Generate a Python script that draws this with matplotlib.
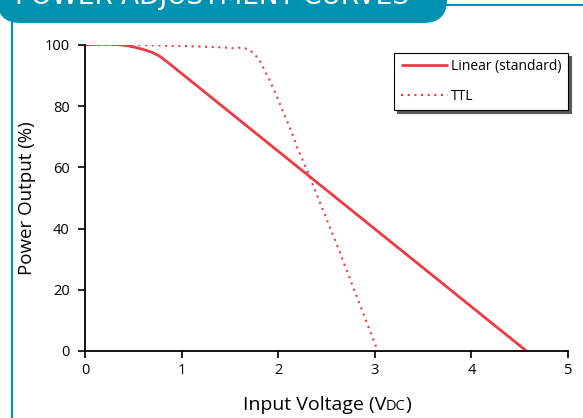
import numpy as np
import matplotlib
matplotlib.use('Agg')
import matplotlib.pyplot as plt
from matplotlib.patches import FancyBboxPatch
from matplotlib.lines import Line2D
from matplotlib.offsetbox import TextArea, HPacker, AnchoredOffsetbox

plt.rcParams['font.family'] = ['Open Sans', 'DejaVu Sans']

# 数据 (读自参考图)
linear_v = [0.0, 0.1, 0.22, 0.35, 0.45, 0.55, 0.63, 0.7, 0.77, 0.85, 4.57]
linear_p = [100.0, 100.2, 100.3, 100.1, 99.7, 99.0, 98.3, 97.5, 96.4, 94.5, 0.0]

ttl_v = [0.0, 0.5, 1.0, 1.44, 1.55, 1.62, 1.68, 1.73, 1.77, 1.81, 1.86, 1.92, 1.99, 2.06, 2.13, 2.19, 2.31, 2.62, 3.03]
ttl_p = [100.0, 100.0, 99.7, 99.2, 98.9, 99.2, 98.7, 97.7, 96.4, 94.9, 91.6, 88.0, 82.8, 77.5, 72.3, 67.0, 58.2, 33.7, 0.0]

x_ticks = [0, 1, 2, 3, 4, 5]
y_ticks = [0, 20, 40, 60, 80, 100]

TEAL = '#0093b1'
RED = '#ee3a45'

fig = plt.figure(figsize=(5.83, 4.18), dpi=100)
W, H = 583, 418

# 顶部标题栏
banner = FancyBboxPatch((-3 / W, 1 - 23 / H), 450 / W, 60 / H,
                        boxstyle='round,pad=0,rounding_size=0.04',
                        transform=fig.transFigure, facecolor=TEAL, edgecolor='none',
                        mutation_aspect=W / H)
fig.patches.append(banner)
fig.lines.append(Line2D([440 / W, 1], [1 - 5 / H, 1 - 5 / H], transform=fig.transFigure,
                        color=TEAL, lw=1.5))
fig.lines.append(Line2D([12 / W, 12 / W], [0, 1 - 20 / H], transform=fig.transFigure,
                        color=TEAL, lw=1.5))
fig.text(15 / W, 1 - 4.5 / H, 'POWER ADJUSTMENT CURVES', color='white', fontsize=19,
         family='DejaVu Sans', va='baseline', ha='left')

ax = fig.add_axes([85 / W, 1 - 351 / H, (568 - 85) / W, (351 - 45) / H])
ax.plot(linear_v, linear_p, color=RED, lw=2, label='Linear (standard)', solid_capstyle='butt')
ax.plot(ttl_v, ttl_p, color=RED, lw=1.5, ls=(0, (1, 2.2)), label='TTL')

ax.set_xlim(0, 5)
ax.set_ylim(0, 100)
ax.set_xticks(x_ticks)
ax.set_yticks(y_ticks)
ax.tick_params(direction='out', length=5, width=1.2, labelsize=10.5)
ax.tick_params(axis='y', pad=6)
ax.tick_params(axis='x', pad=4)
for s in ['top', 'right']:
    ax.spines[s].set_visible(False)
for s in ['left', 'bottom']:
    ax.spines[s].set_linewidth(1.3)
ax.patch.set_alpha(0)

ax.set_ylabel('Power Output (%)', fontsize=13.5, labelpad=6)

# x轴标签 (小型大写 DC)
parts = [TextArea('Input Voltage (V', textprops=dict(fontsize=14)),
         TextArea('DC', textprops=dict(fontsize=10.5)),
         TextArea(')', textprops=dict(fontsize=14))]
box = HPacker(children=parts, align='baseline', pad=0, sep=0)
anch = AnchoredOffsetbox(loc='center', child=box, frameon=False,
                         bbox_to_anchor=(327 / W, 1 - 405 / H), bbox_transform=fig.transFigure,
                         borderpad=0, pad=0)
fig.add_artist(anch)

leg = ax.legend(loc='upper right', bbox_to_anchor=(568 / W, 1 - 53 / H),
                bbox_transform=fig.transFigure, fontsize=10, frameon=True, fancybox=False,
                shadow={'color': '0.35', 'alpha': 1}, handlelength=3.4, handletextpad=0.25,
                borderpad=0.45, labelspacing=1.05, borderaxespad=0)
leg.get_frame().set_edgecolor('black')
leg.get_frame().set_linewidth(0.8)

fig.savefig('out.png', dpi=100)
